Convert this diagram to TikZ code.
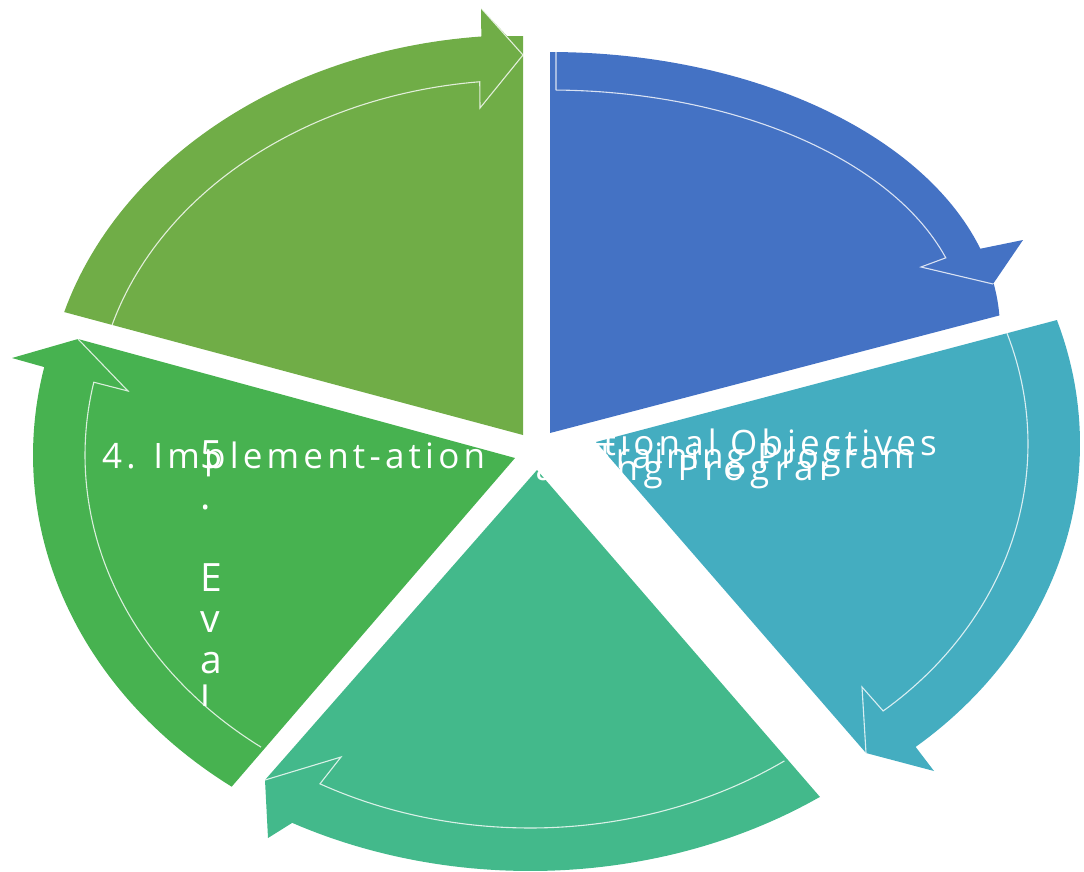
\documentclass[tikz,border=0pt]{standalone}
\usepackage{fontspec}
\setmainfont{Open Sans}
\newfontfamily\lblA[LetterSpace=12]{Open Sans}
\newfontfamily\lblB[LetterSpace=8]{Open Sans}
\newfontfamily\lblC[LetterSpace=16]{Open Sans}
\definecolor{cBlue}{HTML}{4472C4}
\definecolor{cTeal}{HTML}{44ADC0}
\definecolor{cSea}{HTML}{43B98B}
\definecolor{cGreen}{HTML}{47B250}
\definecolor{cOlive}{HTML}{70AD47}
\tikzset{
  outline/.style={draw=white, draw opacity=0.8, line width=1.1pt, line join=miter},
  lbl/.style={text=white, inner sep=0pt},
  arcpts/.style={samples=60, variable=\t},
}
\begin{document}
\begin{tikzpicture}[x=1pt,y=-1pt]
\useasboundingbox (0,0) rectangle (1084,871);

% ---- segment 1: blue, top right (outer 450 x 278, inner 415 x 240 about (550,330))
\fill[cBlue] (550,433) -- (550,52)
  -- plot[arcpts, domain=90:17] ({550+450*cos(\t)}, {330-278*sin(\t)})
  -- (1023,240) -- (993,284)
  -- plot[arcpts, domain=9.5:3] ({550+450*cos(\t)}, {330-278*sin(\t)})
  -- cycle;
\path[outline] (556,52) -- (556,90)
  -- plot[arcpts, domain=89.2:17.5] ({550+415*cos(\t)}, {330-240*sin(\t)})
  -- (921,267) -- (993,284);

% ---- segment 2: teal, right (about (630,444))
\fill[cTeal] (596,442) -- (1057,320)
  -- plot[arcpts, domain=18.4:-50.6] ({630+450*cos(\t)}, {444-392*sin(\t)})
  -- (934,771) -- (866,753) -- cycle;
\path[outline]
  plot[arcpts, domain=18.7:-50.5] ({630+398*cos(\t)}, {444-346*sin(\t)})
  -- (862,687) -- (866,753);

% ---- segment 3: sea green, bottom (about (530,471))
\fill[cSea] (537,470) -- (820,797)
  -- plot[arcpts, domain=-54.6:-118.4] ({530+500*cos(\t)}, {471-400*sin(\t)})
  -- (268,838) -- (265,780) -- cycle;
\path[outline]
  plot[arcpts, domain=-54.3:-118.8] ({530+436*cos(\t)}, {471-357*sin(\t)})
  -- (341,757) -- (265,780);

% ---- segment 4: green, left (about (515,455))
\fill[cGreen] (515,458) -- (78,339) -- (12,358) -- (44,367)
  -- plot[arcpts, domain=167.6:234] ({515+482*cos(\t)}, {455-410*sin(\t)})
  -- cycle;
\path[outline]
  plot[arcpts, domain=233.8:168.4] ({515+430*cos(\t)}, {455-362*sin(\t)})
  -- (128,391) -- (78,339);

% ---- segment 5: olive, top left (about (523,420))
\fill[cOlive] (523,435) -- (64,312)
  -- plot[arcpts, domain=163.7:95] ({523+478*cos(\t)}, {420-385*sin(\t)})
  -- (481,8) -- (507,36) -- (523,36) -- cycle;
\path[outline]
  plot[arcpts, domain=163.8:95.8] ({523+428*cos(\t)}, {420-340*sin(\t)})
  -- (480,108) -- (523,55) -- (481,8);

% ---- labels
\node[lbl, anchor=base west, font=\lblA\fontsize{35}{40}\selectfont] (impl) at (102,468) {4. Implement-ation};

\begin{scope}
  \clip (546,415) rectangle (960,475);
  \node[lbl, anchor=base east, font=\lblA\fontsize{35}{40}\selectfont] (objectives) at (937,455) {Educa-tional Objectives};
\end{scope}

\node[lbl, anchor=base east, font=\lblB\fontsize{35}{40}\selectfont] (training) at (915,468) {Training Program};

\begin{scope}
  \clip (520,450) rectangle (826,495);
  \node[lbl, anchor=base west, font=\lblC\fontsize{35}{40}\selectfont] (program) at (493,480) {Training Program};
\end{scope}

\begin{scope}
  \clip (180,420) rectangle (260,705);
  \foreach \ch [count=\i from 0] in {5,.,{},E,v,a,l}
    \node[lbl, anchor=base west, font=\fontsize{39}{44}\selectfont] (eval\i) at (200,468+41*\i) {\ch};
\end{scope}
\end{tikzpicture}
\end{document}
